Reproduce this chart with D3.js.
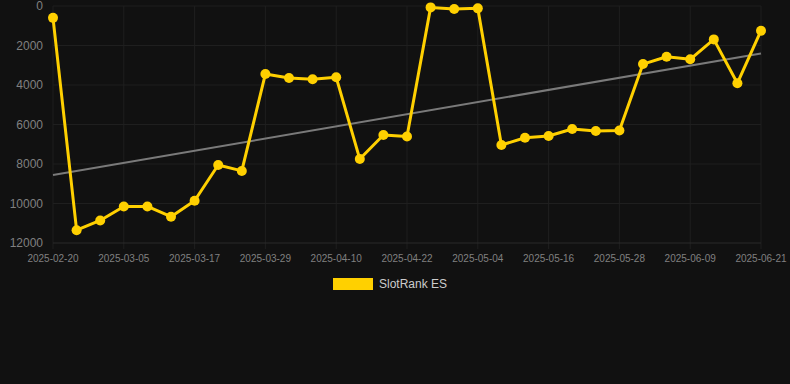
<!DOCTYPE html>
<html>
<head>
<meta charset="utf-8">
<script src="https://cdn.jsdelivr.net/npm/d3@7/dist/d3.min.js"></script>
<style>
  html, body { margin: 0; padding: 0; background: #111111; }
  svg { display: block; font-family: "Liberation Sans", Arial, sans-serif; }
</style>
</head>
<body>
<div id="chart"></div>
<script>
// dates of each sample (only every third one is labelled)
const dates = [
  '2025-02-20', '2025-02-24', '2025-03-01', '2025-03-05', '2025-03-09', '2025-03-13',
  '2025-03-17', '2025-03-21', '2025-03-25', '2025-03-29', '2025-04-02', '2025-04-06',
  '2025-04-10', '2025-04-14', '2025-04-18', '2025-04-22', '2025-04-26', '2025-04-30',
  '2025-05-04', '2025-05-08', '2025-05-12', '2025-05-16', '2025-05-20', '2025-05-24',
  '2025-05-28', '2025-06-01', '2025-06-05', '2025-06-09', '2025-06-13', '2025-06-17',
  '2025-06-21'
];
const rankES = [
  600, 11350, 10860, 10150, 10150, 10670, 9860, 8050, 8350, 3440, 3645, 3710,
  3610, 7750, 6530, 6610, 70, 150, 120, 7040, 6670, 6580, 6230, 6330,
  6300, 2940, 2570, 2700, 1690, 3910, 1250
];
const yTicks = [0, 2000, 4000, 6000, 8000, 10000, 12000];
const seriesName = 'SlotRank ES';

const width = 790;
const height = 384;
const margin = { top: 6, right: 29, bottom: 141, left: 53 };

const svg = d3.select('#chart').append('svg')
  .attr('width', width)
  .attr('height', height);

svg.append('rect').attr('width', width).attr('height', height).attr('fill', '#111111');

const x = d3.scalePoint()
  .domain(dates)
  .range([margin.left, width - margin.right]);

// rank axis runs downwards: 0 at the top
const y = d3.scaleLinear()
  .domain([0, 12000])
  .range([margin.top, height - margin.bottom]);

const tickDates = dates.filter((d, i) => i % 3 === 0);

// grid
const grid = svg.append('g');
grid.selectAll('.vgrid')
  .data(tickDates)
  .enter()
  .append('line')
  .attr('x1', d => x(d)).attr('x2', d => x(d))
  .attr('y1', margin.top).attr('y2', y(12000) + 6)
  .attr('stroke', '#1f1f1f')
  .attr('stroke-width', 1);
grid.selectAll('.hgrid')
  .data(yTicks)
  .enter()
  .append('line')
  .attr('x1', margin.left).attr('x2', width - margin.right)
  .attr('y1', d => y(d)).attr('y2', d => y(d))
  .attr('stroke', d => d === 12000 ? '#2a2a2a' : '#1f1f1f')
  .attr('stroke-width', 1);

// y labels
svg.append('g').selectAll('text')
  .data(yTicks)
  .enter()
  .append('text')
  .attr('x', 43)
  .attr('y', d => y(d))
  .attr('dy', '0.35em')
  .attr('text-anchor', 'end')
  .attr('fill', '#808080')
  .style('font-size', '12px')
  .text(d => d);

// x labels
svg.append('g').selectAll('text')
  .data(tickDates)
  .enter()
  .append('text')
  .attr('x', d => x(d))
  .attr('y', y(12000) + 19)
  .attr('text-anchor', 'middle')
  .attr('fill', '#808080')
  .style('font-size', '10px')
  .text(d => d);

// least squares trend over the samples
const n = rankES.length;
const idx = d3.range(n);
const mx = d3.mean(idx);
const my = d3.mean(rankES);
const slope = d3.sum(idx, i => (i - mx) * (rankES[i] - my)) / d3.sum(idx, i => (i - mx) ** 2);
const icpt = my - slope * mx;

svg.append('line')
  .attr('x1', x(dates[0])).attr('y1', y(icpt))
  .attr('x2', x(dates[n - 1])).attr('y2', y(icpt + slope * (n - 1)))
  .attr('stroke', '#7a7a7a')
  .attr('stroke-width', 2);

// series
const line = d3.line()
  .x((d, i) => x(dates[i]))
  .y(d => y(d));

svg.append('path')
  .datum(rankES)
  .attr('d', line)
  .attr('fill', 'none')
  .attr('stroke', '#ffd000')
  .attr('stroke-width', 3)
  .attr('stroke-linejoin', 'round');

svg.append('g').selectAll('circle')
  .data(rankES)
  .enter()
  .append('circle')
  .attr('cx', (d, i) => x(dates[i]))
  .attr('cy', d => y(d))
  .attr('r', 5)
  .attr('fill', '#ffd000');

// legend
const legend = svg.append('g');
legend.append('rect')
  .attr('x', 333).attr('y', 278)
  .attr('width', 40).attr('height', 12)
  .attr('fill', '#ffd000');
legend.append('text')
  .attr('x', 379).attr('y', 284)
  .attr('dy', '0.35em')
  .attr('fill', '#cccccc')
  .style('font-size', '12px')
  .text(seriesName);
</script>
</body>
</html>
